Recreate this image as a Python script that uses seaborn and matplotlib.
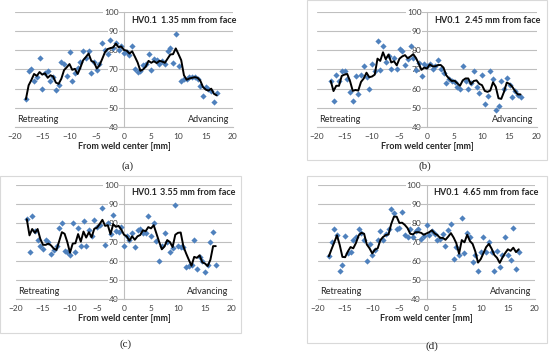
import numpy as np
import pandas as pd
import seaborn as sns
import matplotlib.pyplot as plt
from matplotlib.patches import Rectangle

# hardness readings (HV0.1) along the weld
x_a = [-18, -17.5, -17, -16.5, -16, -15.5, -15, -14.5, -14, -13.5, -13, -12.5, -12, -11.5,
       -11, -10.5, -10, -9.5, -9, -8.5, -8, -7.5, -7, -6.5, -6, -5.5, -5, -4.5, -4, -3.5,
       -3, -2.5, -2, -1.5, -1, -0.5, 0, 0.5, 1, 1.5, 2, 2.5, 3, 3.5, 4, 4.5, 5, 5.5, 6,
       6.5, 7, 7.5, 8, 8.5, 9, 9.5, 10, 10.5, 11, 11.5, 12, 12.5, 13, 13.5, 14, 14.5, 15,
       15.5, 16, 16.5, 17]
hv_a = [54.5, 69, 70, 64, 66, 76, 60, 68, 69, 64, 66, 59.5, 62, 74, 73, 66.5, 79, 64, 68,
        71, 74, 79.5, 76, 79.5, 68, 74, 69.5, 73, 84, 80, 78, 85.5, 81, 84, 80, 82, 78.5,
        79, 77.5, 82, 70.5, 68.5, 69, 72.5, 73, 78, 69.5, 75.5, 75, 73, 74.5, 73, 79.5, 81,
        73.5, 88.5, 72, 64, 65, 65, 66, 66, 66, 65, 61.5, 56, 61, 60, 59, 53, 57.5]

x_b = x_a[1:]
hv_b = [64, 53.5, 67, 64, 69, 69, 65, 58, 53.5, 66.5, 57, 67, 72, 66, 60, 73, 69, 85, 69.5,
        82.5, 74, 77, 70, 76, 70.5, 80.5, 79.5, 72.5, 75.5, 82.5, 76, 69.5, 73.5, 66.5, 73,
        72, 73, 70, 72, 75, 70, 68, 63, 65, 64, 63.5, 61, 60, 72, 64, 60, 63, 69, 61, 57.5,
        67, 52, 56, 69, 65, 49, 51, 64, 60, 65.5, 62, 55.5, 59, 56.5, 55.5]

x_c = x_a
hv_c = [82, 65, 83.5, 76, 71, 68, 66.5, 71, 70, 63.5, 66, 68, 77.5, 80, 65.5, 64.5, 63, 80,
        65, 77.5, 68, 81, 68, 76.5, 73, 81.5, 78, 79, 88, 68.5, 80, 74, 84, 76, 75.5, 78, 68,
        73, 71, 75, 67.5, 76.5, 77, 75, 75, 83.5, 73, 80, 70.5, 60, 68, 75, 70, 65, 67, 89.5,
        68, 67.5, 67.5, 57, 57.5, 58, 71, 56, 62, 60, 54, 58, 70, 75.5, 58]

x_d = x_a
hv_d = [62.5, 70, 77, 73.5, 55, 58, 73, 64, 65, 71, 72.5, 77, 75, 71, 60, 69, 63, 66, 71,
        76, 71, 74, 77, 87.5, 85.5, 77, 77.5, 86, 73.5, 72.5, 77, 72.5, 76, 77, 71.5, 73, 79,
        73.5, 76, 74, 71, 71.5, 74, 68, 76.5, 79.5, 61, 67.5, 63, 82.5, 64, 75, 72.5, 59.5,
        63, 55, 65, 72.5, 64.5, 70, 65, 54.5, 65.5, 57, 63, 72.5, 63, 60.5, 77.5, 56, 65]

depths = ["1.35 mm from face", "2.45 mm from face", "3.55 mm from face", "4.65 mm from face"]
captions = ["(a)", "(b)", "(c)", "(d)"]

sns.set_style("white")
plt.rcParams["font.family"] = ["Lato", "DejaVu Sans"]

W, H = 550, 352
fig = plt.figure(figsize=(5.5, 3.52), dpi=100)

# plot area boxes in pixels: (left x at -20, right x at 20, top y at 100, bottom y at 40)
boxes = [(15, 233, 12, 127), (317, 537, 12, 127), (16, 232, 185, 299), (318, 535, 185, 299)]
cap_pos = [(128, 166), (425, 166), (126, 344), (432, 346)]
frames = [None, (307, 0, 547, 160), (0, 176, 241, 333), (307, 176, 547, 343)]

blue = "#4F81BD"
grid = "#BFBFBF"

panels = [(x_a, hv_a), (x_b, hv_b), (x_c, hv_c), (x_d, hv_d)]
for i, (xs, ys) in enumerate(panels):
    df = pd.DataFrame({"x": xs, "hv": ys})
    # moving average trend line through the readings
    df["avg"] = df["hv"].rolling(3, min_periods=1).mean()

    x0, x1, y0, y1 = boxes[i]
    ax = fig.add_axes([x0 / W, 1 - y1 / H, (x1 - x0) / W, (y1 - y0) / H])
    sns.scatterplot(data=df, x="x", y="hv", marker="D", s=10, color=blue,
                    linewidth=0, ax=ax, zorder=3)
    sns.lineplot(data=df, x="x", y="avg", color="black", linewidth=1.4, ax=ax, zorder=4)

    ax.set_xlim(-20, 20)
    ax.set_ylim(40, 100)
    ax.set_xticks(range(-20, 21, 5))
    ax.set_yticks(range(40, 101, 10))
    ax.yaxis.grid(True, color=grid, linewidth=0.8)
    ax.set_axisbelow(True)
    for s in ["top", "right"]:
        ax.spines[s].set_visible(False)
    ax.spines["left"].set_position(("data", 0))
    ax.spines["left"].set_color(grid)
    ax.spines["bottom"].set_color(grid)
    ax.tick_params(axis="both", labelsize=6, colors="#404040", length=2.5,
                   direction="out", width=0.6, pad=1.5)
    ax.tick_params(axis="both", color=grid)
    for lab in ax.get_yticklabels():
        lab.set_bbox(dict(facecolor="white", edgecolor="none", pad=0.3))
    ax.set_xlabel("From weld center [mm]", fontsize=6.5, fontweight="bold",
                  color="#262626", labelpad=2)
    ax.set_ylabel("")

    ax.text(1.3, 95.8, "HV0.1", fontsize=6.5, fontweight="bold", ha="left",
            va="center", color="#262626")
    ax.text(20.7, 95.8, depths[i], fontsize=6.5, fontweight="bold", ha="right",
            va="center", color="#262626")
    ax.text(-19.6, 44, "Retreating", fontsize=6.5, ha="left", va="center", color="#262626")
    ax.text(19.4, 44, "Advancing", fontsize=6.5, ha="right", va="center", color="#262626")

    cx, cy = cap_pos[i]
    fig.text(cx / W, 1 - cy / H, captions[i], fontsize=8, ha="center", va="center",
             family="Liberation Serif")

    if frames[i] is not None:
        fx0, fy0, fx1, fy1 = frames[i]
        fig.patches.append(Rectangle((fx0 / W, 1 - fy1 / H), (fx1 - fx0) / W,
                                     (fy1 - fy0) / H, transform=fig.transFigure,
                                     fill=False, edgecolor="#D9D9D9", linewidth=0.8))

fig.savefig("out.png", dpi=100, facecolor="white")
